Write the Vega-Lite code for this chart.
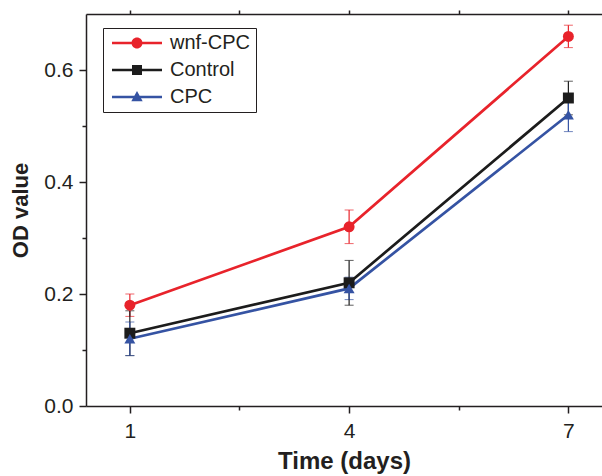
{
  "$schema": "https://vega.github.io/schema/vega-lite/v6.json",
  "autosize": "none",
  "width": 516,
  "height": 392,
  "padding": {"left": 86, "top": 14, "right": 0, "bottom": 70},
  "background": "white",
  "config": {
    "view": {"stroke": null},
    "font": "Liberation Sans",
    "axis": {"grid": false, "domainColor": "#231f20", "tickColor": "#231f20", "labelColor": "#231f20", "titleColor": "#231f20", "domainWidth": 1.5, "tickWidth": 1.5, "labelFont": "Liberation Sans", "titleFont": "Liberation Sans", "labelFontSize": 21, "titleFontSize": 24, "titleFontWeight": "bold"}
  },
  "data": {"values": [
    {"day": 1, "group": "wnf-CPC", "od": 0.18, "lo": 0.16, "hi": 0.20},
    {"day": 4, "group": "wnf-CPC", "od": 0.32, "lo": 0.29, "hi": 0.35},
    {"day": 7, "group": "wnf-CPC", "od": 0.66, "lo": 0.64, "hi": 0.68},
    {"day": 1, "group": "Control", "od": 0.13, "lo": 0.09, "hi": 0.17},
    {"day": 4, "group": "Control", "od": 0.22, "lo": 0.18, "hi": 0.26},
    {"day": 7, "group": "Control", "od": 0.55, "lo": 0.52, "hi": 0.58},
    {"day": 1, "group": "CPC", "od": 0.12, "lo": 0.09, "hi": 0.15},
    {"day": 4, "group": "CPC", "od": 0.21, "lo": 0.19, "hi": 0.23},
    {"day": 7, "group": "CPC", "od": 0.52, "lo": 0.49, "hi": 0.55}
  ]},
  "resolve": {"axis": {"x": "independent", "y": "independent"}, "legend": {"color": "independent", "shape": "independent"}, "scale": {"shape": "independent"}},
  "layer": [
    {
      "mark": {"type": "errorbar", "ticks": {"size": 9}, "rule": {"strokeWidth": 1.2}},
      "encoding": {
        "x": {"field": "day", "type": "quantitative", "scale": {"domain": [0.4, 7.46], "nice": false, "zero": false},
              "axis": {"orient": "bottom", "values": [1, 4, 7], "format": "d", "tickSize": 7, "labelPadding": 7, "labelFontSize": 21, "title": "Time (days)", "titleFontSize": 24, "titlePadding": 8}},
        "y": {"field": "lo", "type": "quantitative", "scale": {"domain": [0, 0.7], "nice": false},
              "axis": {"orient": "left", "values": [0, 0.2, 0.4, 0.6], "format": ".1f", "tickSize": 7, "labelPadding": 6, "labelFontSize": 21, "title": "OD value", "titleFontSize": 22, "titlePadding": 11}},
        "y2": {"field": "hi"},
        "color": {"field": "group", "type": "nominal", "scale": {"domain": ["wnf-CPC", "Control", "CPC"], "range": ["#e8232b", "#1c1c1c", "#3553a3"]}, "legend": null}
      }
    },
    {
      "mark": {"type": "line", "strokeWidth": 2.7},
      "encoding": {
        "x": {"field": "day", "type": "quantitative", "axis": {"orient": "bottom", "values": [2.5, 5.5], "tickSize": 4, "labels": false, "domain": false, "title": null}},
        "y": {"field": "od", "type": "quantitative", "axis": {"orient": "left", "values": [0.1, 0.3, 0.5], "tickSize": 4, "labels": false, "domain": false, "title": null}},
        "color": {"field": "group", "type": "nominal", "legend": null}
      }
    },
    {
      "mark": {"type": "point", "filled": true, "opacity": 1, "size": 120},
      "encoding": {
        "x": {"field": "day", "type": "quantitative", "axis": {"orient": "top", "values": [1, 2.5, 4, 5.5, 7], "tickSize": 4, "labels": false, "title": null}},
        "y": {"field": "od", "type": "quantitative", "axis": null},
        "color": {"field": "group", "type": "nominal", "legend": null},
        "shape": {"field": "group", "type": "nominal", "scale": {"domain": ["wnf-CPC", "Control", "CPC"], "range": ["circle", "square", "triangle-up"]}, "legend": null}
      }
    },
    {
      "mark": {"type": "point", "filled": true, "opacity": 0, "size": 110},
      "encoding": {
        "x": {"field": "day", "type": "quantitative", "axis": null},
        "y": {"field": "od", "type": "quantitative", "axis": null},
        "color": {"field": "group", "type": "nominal",
                  "legend": {"orient": "none", "legendX": 17, "legendY": 14, "title": null, "strokeColor": "#231f20", "padding": 5, "labelFontSize": 20, "labelColor": "#231f20", "labelFont": "Liberation Sans", "symbolSize": 400, "symbolOpacity": 1, "symbolStrokeWidth": 0, "labelOffset": 42, "rowPadding": 7}},
        "shape": {"field": "group", "type": "nominal",
                  "scale": {"domain": ["wnf-CPC", "Control", "CPC"], "range": [
                    "M-0.6,-0.135L4.4,-0.135L4.4,0.135L-0.6,0.135ZM1.35,0A0.55,0.55,0,1,1,2.45,0A0.55,0.55,0,1,1,1.35,0Z",
                    "M-0.6,-0.135L4.4,-0.135L4.4,0.135L-0.6,0.135ZM1.4,-0.5L2.4,-0.5L2.4,0.5L1.4,0.5Z",
                    "M-0.6,-0.135L4.4,-0.135L4.4,0.135L-0.6,0.135ZM1.9,-0.6L2.47,0.42L1.33,0.42Z"]},
                  "legend": {"orient": "none", "legendX": 17, "legendY": 14, "title": null, "strokeColor": "#231f20", "padding": 5, "labelFontSize": 20, "labelColor": "#231f20", "labelFont": "Liberation Sans", "symbolSize": 400, "symbolOpacity": 1, "symbolStrokeWidth": 0, "labelOffset": 42, "rowPadding": 7}}
      }
    }
  ]
}
